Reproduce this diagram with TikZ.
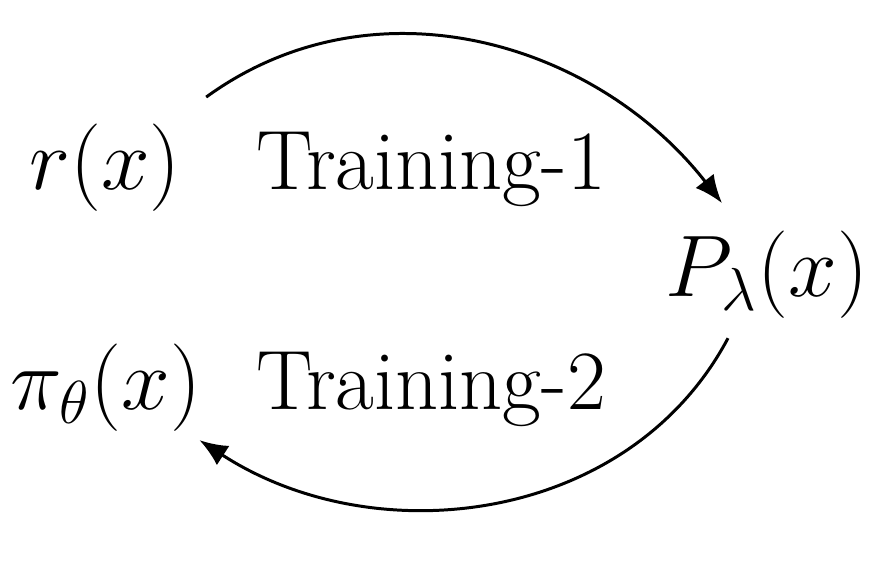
\documentclass[tikz,border=0pt]{standalone}
\usepackage{amsmath}
\usetikzlibrary{arrows.meta}

\tikzset{
    lbl/.style={anchor=base, font=\fontsize{24}{29}\selectfont},
    flow/.style={-{Latex[length=2.8mm,width=2.3mm]}, line width=0.85pt}
}

\begin{document}
\begin{tikzpicture}
    % fix the page size
    \useasboundingbox (0,0) rectangle (8.88,5.68);

    % the five labels
    \node[lbl] (rx) at (1.05,3.78) {$r(x)$};
    \node[lbl] (train1) at (4.31,3.78) {Training-1};
    \node[lbl] (plam) at (7.67,2.71) {$P_\lambda(x)$};
    \node[lbl] (pith) at (1.06,1.58) {$\pi_\theta(x)$};
    \node[lbl] (train2) at (4.31,1.58) {Training-2};

    % the two arcs
    \draw[flow] ([shift={(0.13,0.15)}]rx.north east) to[out=36,in=128] ([shift={(-0.45,0.16)}]plam.north);
    \draw[flow] ([shift={(-0.39,-0.07)}]plam.south) to[out=242,in=-33] ([shift={(-0.14,0.04)}]pith.south east);

\end{tikzpicture}
\end{document}
